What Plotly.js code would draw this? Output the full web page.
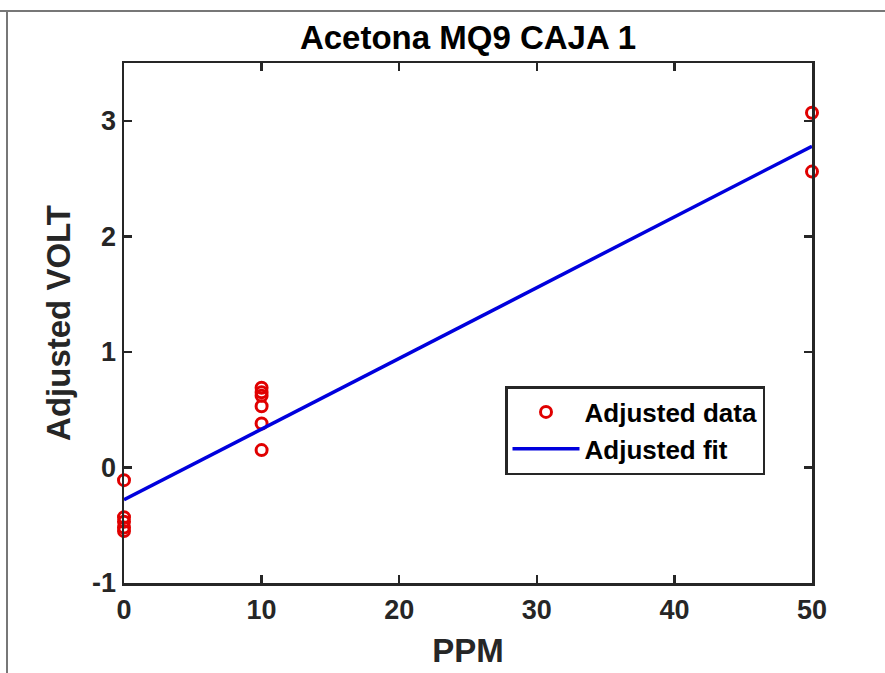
<!DOCTYPE html>
<html>
<head>
<meta charset="utf-8">
<script src="https://cdn.plot.ly/plotly-3.0.1.min.js"></script>
<style>
html,body{margin:0;padding:0;background:#fff;}
#chart{width:885px;height:673px;}
</style>
</head>
<body>
<div id="chart"></div>
<script>
// Data
const dataX = [0, 0, 0, 0, 0, 10, 10, 10, 10, 10, 10, 50, 50];
const dataY = [-0.11, -0.43, -0.47, -0.52, -0.55, 0.69, 0.65, 0.62, 0.53, 0.38, 0.15, 3.07, 2.56];
const fitX = [0, 50];
const fitY = [-0.28, 2.78];
const xTicks = [0, 10, 20, 30, 40, 50];
const yTicks = [-1, 0, 1, 2, 3];
const yTickText = ['-1', '0', '1', '2', '3'];

const font = 'Liberation Sans, Arial, sans-serif';
const traces = [
  {
    x: dataX, y: dataY, mode: 'markers', type: 'scatter', name: 'Adjusted data',
    marker: {symbol: 'circle-open', size: 11, color: '#e00000', line: {width: 3, color: '#e00000'}},
    cliponaxis: false
  },
  {
    x: fitX, y: fitY, mode: 'lines', type: 'scatter', name: 'Adjusted fit',
    line: {color: '#0000dd', width: 3.5}
  }
];

const axisCommon = {
  showgrid: false, zeroline: false, showline: true, mirror: 'ticks',
  linecolor: '#262626', linewidth: 2.5, ticks: 'inside', ticklen: 8, tickwidth: 2.5,
  tickcolor: '#262626',
  tickfont: {family: font, size: 27, color: '#262626', weight: 'bold'}
};

const layout = {
  width: 885, height: 673,
  margin: {l: 124, r: 73, t: 63, b: 90},
  paper_bgcolor: '#fff', plot_bgcolor: '#fff',
  showlegend: true,
  title: {text: '<b>Acetona MQ9 CAJA 1</b>', font: {family: font, size: 33, color: '#000'},
          xref: 'paper', x: 0.5, xanchor: 'center', y: 1 - 37/673, yanchor: 'middle'},
  xaxis: Object.assign({}, axisCommon, {
    range: [0, 50], tickvals: xTicks, ticklabelstandoff: 1,
    title: {text: '<b>PPM</b>', font: {family: font, size: 33, color: '#262626'}, standoff: 15}
  }),
  yaxis: Object.assign({}, axisCommon, {
    range: [-1, 3.5], tickvals: yTicks, ticktext: yTickText, ticklabelstandoff: 0,
    title: {text: '<b>Adjusted VOLT</b>', font: {family: font, size: 33, color: '#262626'}, standoff: 12}
  }),
  legend: {
    x: (505 - 124) / 688, y: 1 - (386 - 63) / 520, xanchor: 'left', yanchor: 'top',
    bgcolor: '#fff', bordercolor: '#262626', borderwidth: 2.5,
    font: {family: font, size: 26, color: '#000', weight: 'bold'},
    itemwidth: 67, tracegroupgap: 0
  },
  shapes: [
    {type: 'line', xref: 'paper', yref: 'paper', x0: -124/688, x1: 761/688, y0: 1 + 52/520, y1: 1 + 52/520,
     line: {color: '#777', width: 2}},
    {type: 'line', xref: 'paper', yref: 'paper', x0: -117/688, x1: -117/688, y0: 1 + 52/520, y1: -90/520,
     line: {color: '#777', width: 2}}
  ]
};

Plotly.newPlot('chart', traces, layout, {displayModeBar: false, staticPlot: true});
</script>
</body>
</html>
